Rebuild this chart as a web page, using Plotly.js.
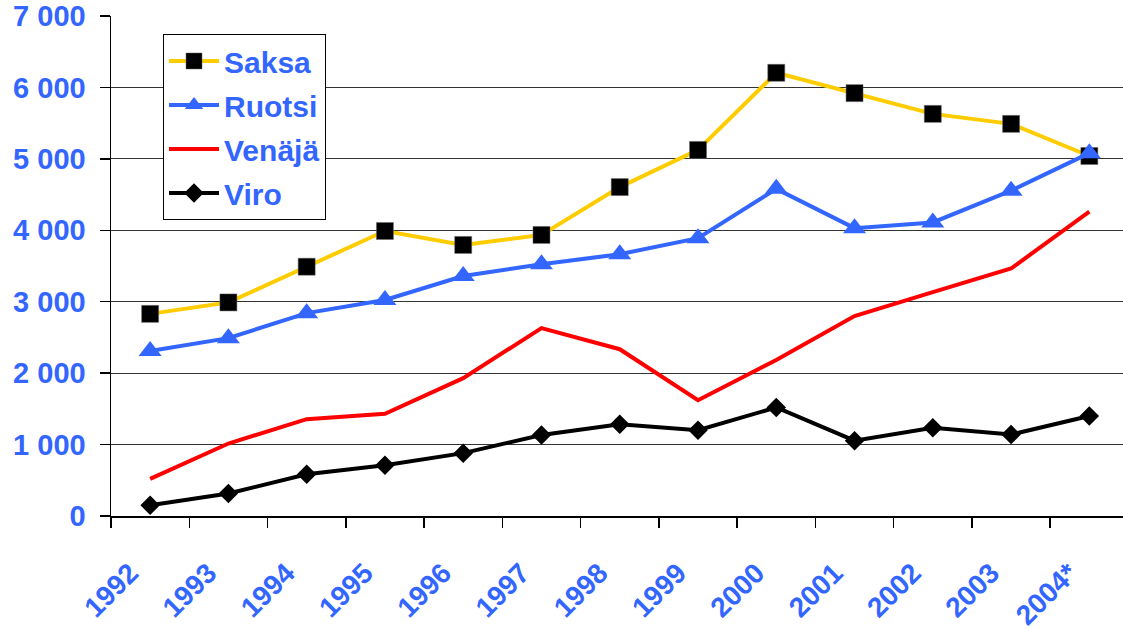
<!DOCTYPE html>
<html>
<head>
<meta charset="utf-8">
<script src="https://cdn.plot.ly/plotly-3.0.1.min.js"></script>
<style>html,body{margin:0;padding:0;background:#fff;}#chart{width:1123px;height:631px;}</style>
</head>
<body>
<div id="chart"></div>
<script>
const years = ["1992","1993","1994","1995","1996","1997","1998","1999","2000","2001","2002","2003","2004*"];
const saksa  = [2830, 2990, 3490, 3990, 3795, 3935, 4605, 5125, 6205, 5920, 5630, 5490, 5040];
const ruotsi = [2310, 2490, 2840, 3025, 3360, 3525, 3665, 3890, 4580, 4030, 4110, 4555, 5080];
const venaja = [520, 1015, 1355, 1430, 1930, 2630, 2335, 1620, 2185, 2800, 3135, 3465, 4260];
const viro   = [150, 315, 585, 710, 880, 1135, 1285, 1200, 1520, 1055, 1235, 1140, 1400];
const yTicks = [0, 1000, 2000, 3000, 4000, 5000, 6000, 7000];

const blue = "#3366FF";
const font = "Liberation Sans, Arial, sans-serif";

const traces = [
  {name:"Saksa", y:saksa, line:{color:"#FFCC00", width:4},
   marker:{symbol:"square", size:17, color:"#000", line:{color:"#666", width:0.5}}, mode:"lines+markers"},
  {name:"Ruotsi", y:ruotsi, line:{color:blue, width:4},
   marker:{symbol:"triangle-up", size:20, color:blue}, mode:"lines+markers"},
  {name:"Venäjä", y:venaja, line:{color:"#FF0000", width:4}, mode:"lines"},
  {name:"Viro", y:viro, line:{color:"#000", width:4},
   marker:{symbol:"diamond", size:15, color:"#000"}, mode:"lines+markers"}
].map((t,i) => Object.assign({type:"scatter", x:years, legendgroup:"g"+i}, t));

const layout = {
  width:1123, height:631,
  margin:{l:111, r:0, t:16, b:115},
  paper_bgcolor:"#fff", plot_bgcolor:"#fff",
  separators:". ",
  showlegend:true,
  legend:{x:0.0514, y:0.964, xanchor:"left", yanchor:"top",
    bgcolor:"#fff", bordercolor:"#000", borderwidth:1,
    tracegroupgap:2, traceorder:"grouped", itemwidth:50,
    font:{family:font, size:30, color:blue, weight:"bold"}},
  xaxis:{type:"category", range:[-0.5, 12.43], tickson:"boundaries",
    ticks:"outside", ticklen:10, tickcolor:"#000", tickwidth:1.5,
    showline:true, linecolor:"#000", linewidth:1.5, showgrid:false, zeroline:false,
    tickangle:-45, ticklabelstandoff:28, ticklabelshift:-20,
    tickfont:{family:font, size:28, color:blue, weight:"bold"}},
  yaxis:{range:[0,7000], tickvals:yTicks, tickformat:",d",
    ticks:"outside", ticklen:10, tickcolor:"#000", tickwidth:1.5,
    showline:true, linecolor:"#000", linewidth:1.5,
    showgrid:true, gridcolor:"#333", gridwidth:1, zeroline:false,
    ticklabelstandoff:8,
    tickfont:{family:font, size:29, color:blue, weight:"bold"}}
};

Plotly.newPlot("chart", traces, layout, {displayModeBar:false, staticPlot:true});
</script>
</body>
</html>
